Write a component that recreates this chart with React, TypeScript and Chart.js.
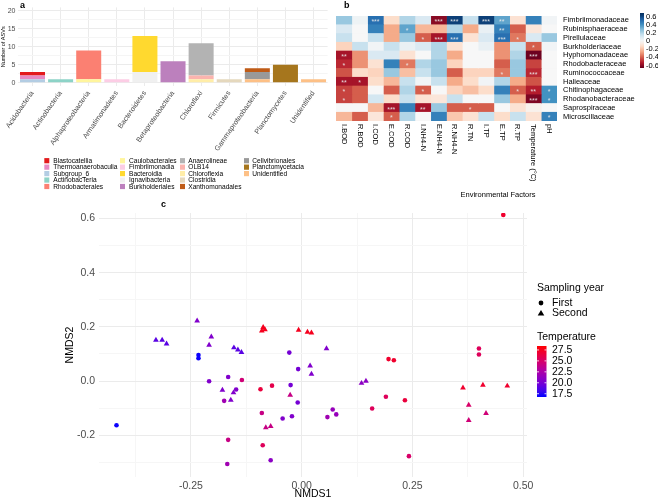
import React, { useEffect, useRef } from 'react';
import { Chart, registerables } from 'chart.js';
Chart.register(...registerables);

const FONT = "'Liberation Sans', Arial, Helvetica, sans-serif";

// ---------------- Panel a data ----------------
const PHYLA = ['Acidobacteria', 'Actinobacteria', 'Alphaproteobacteria', 'Armatimonadetes', 'Bacteroidetes', 'Betaproteobacteria', 'Chloroflexi', 'Firmicutes', 'Gammaproteobacteria', 'Planctomycetes', 'Unidentified'];
const CLASSES = ['Blastocatellia', 'Thermoanaerobaculia', 'Subgroup_6', 'ActinobacTeria', 'Rhodobacterales', 'Caulobacterales', 'Fimbriimonadia', 'Bacteroidia', 'Ignavibacteria', 'Burkholderiales', 'Anaerolineae', 'OLB14', 'Chloroflexia', 'Clostridia', 'Xanthomonadales', 'Cellvibrionales', 'Planctomycetacia', 'Unidentified'];
const CLASS_COLORS = ['#E31A1C', '#E78AC3', '#B3CDE3', '#8DD3C7', '#FB8072', '#FFF59D', '#FCCDE5', '#FFD92F', '#F0F0F0', '#BC80BD', '#B3B3B3', '#FBB4AE', '#FFEDA8', '#E5D8BD', '#BF5B17', '#999999', '#A6761D', '#FDC086'];
// ASV counts: one row per class, one column per phylum
const ASV_COUNTS = [
  [1, 0, 0, 0, 0, 0, 0, 0, 0, 0, 0],
  [1, 0, 0, 0, 0, 0, 0, 0, 0, 0, 0],
  [1, 0, 0, 0, 0, 0, 0, 0, 0, 0, 0],
  [0, 1, 0, 0, 0, 0, 0, 0, 0, 0, 0],
  [0, 0, 8, 0, 0, 0, 0, 0, 0, 0, 0],
  [0, 0, 1, 0, 0, 0, 0, 0, 0, 0, 0],
  [0, 0, 0, 1, 0, 0, 0, 0, 0, 0, 0],
  [0, 0, 0, 0, 10, 0, 0, 0, 0, 0, 0],
  [0, 0, 0, 0, 3, 0, 0, 0, 0, 0, 0],
  [0, 0, 0, 0, 0, 6, 0, 0, 0, 0, 0],
  [0, 0, 0, 0, 0, 0, 9, 0, 0, 0, 0],
  [0, 0, 0, 0, 0, 0, 1, 0, 0, 0, 0],
  [0, 0, 0, 0, 0, 0, 1, 0, 0, 0, 0],
  [0, 0, 0, 0, 0, 0, 0, 1, 0, 0, 0],
  [0, 0, 0, 0, 0, 0, 0, 0, 1, 0, 0],
  [0, 0, 0, 0, 0, 0, 0, 0, 2, 0, 0],
  [0, 0, 0, 0, 0, 0, 0, 0, 0, 5, 0],
  [0, 0, 0, 0, 0, 0, 0, 0, 1, 0, 1],
];
const ASV_TICKS = [0, 5, 10, 15, 20];

// ---------------- Panel b data ----------------
const ENV_FACTORS = ['I.BOD', 'R.BOD', 'I.COD', 'E.COD', 'R.COD', 'I.NH4-N', 'E.NH4-N', 'R.NH4-N', 'R.TN', 'I.TP', 'E.TP', 'R.TP', 'Temperature (°C)', 'pH'];
const FAMILIES = ['Fimbriimonadaceae', 'Rubinisphaeraceae', 'Pirellulaceae', 'Burkholderiaceae', 'Hyphomonadaceae', 'Rhodobacteraceae', 'Ruminococcaceae', 'Halieaceae', 'Chitinophagaceae', 'Rhodanobacteraceae', 'Saprospiraceae', 'Microscillaceae'];
const CORR = [
  [0.25, 0.03, 0.5, -0.12, 0.2, 0.1, -0.6, 0.62, 0.15, 0.62, 0.35, -0.1, 0.45, 0.02],
  [0.1, 0.0, 0.45, -0.25, 0.35, -0.22, -0.22, 0.2, -0.25, 0.05, 0.45, -0.4, -0.08, 0.0],
  [0.15, 0.0, 0.15, -0.25, 0.25, -0.4, -0.55, 0.5, -0.1, 0.1, 0.5, -0.35, 0.1, 0.25],
  [-0.15, 0.15, 0.02, 0.15, 0.05, 0.1, 0.2, -0.1, 0.0, 0.05, -0.3, 0.15, -0.4, 0.02],
  [-0.55, -0.3, 0.1, 0.1, -0.1, 0.0, 0.2, -0.25, 0.0, 0.0, -0.3, 0.2, -0.65, 0.0],
  [-0.5, -0.3, -0.1, 0.45, -0.35, 0.2, 0.25, -0.15, 0.0, 0.0, -0.4, 0.25, -0.45, 0.0],
  [-0.42, -0.12, -0.15, 0.25, -0.2, 0.15, 0.25, -0.4, -0.15, -0.15, -0.35, 0.25, -0.5, 0.0],
  [-0.55, -0.55, -0.12, -0.22, 0.15, 0.02, 0.15, -0.25, -0.12, 0.02, 0.2, -0.25, -0.42, 0.0],
  [-0.45, -0.4, 0.0, -0.4, 0.2, -0.4, 0.0, -0.15, -0.2, -0.12, 0.45, -0.4, -0.52, 0.4],
  [-0.45, -0.4, 0.12, -0.12, 0.15, -0.1, -0.08, 0.15, 0.0, 0.0, 0.25, -0.25, -0.62, 0.4],
  [0.0, 0.0, -0.22, -0.55, 0.45, -0.55, 0.25, -0.4, -0.4, -0.4, 0.0, -0.1, -0.03, 0.0],
  [-0.22, -0.4, -0.08, -0.4, 0.2, 0.0, 0.45, -0.18, -0.1, 0.15, -0.12, 0.15, -0.1, 0.45],
];
const SIGNIF = [
  ['', '', '***', '', '', '', '***', '***', '', '***', '**', '', '', ''],
  ['', '', '', '', '*', '', '', '', '', '', '**', '', '', ''],
  ['', '', '', '', '', '*', '***', '***', '', '', '***', '*', '', ''],
  ['', '', '', '', '', '', '', '', '', '', '', '', '*', ''],
  ['**', '', '', '', '', '', '', '', '', '', '', '', '***', ''],
  ['*', '', '', '', '*', '', '', '', '', '', '', '', '', ''],
  ['', '', '', '', '', '', '', '', '', '', '*', '', '***', ''],
  ['**', '*', '', '', '', '', '', '', '', '', '', '', '', ''],
  ['*', '', '', '', '', '*', '', '', '', '', '', '*', '**', '*'],
  ['*', '', '', '', '', '', '', '', '', '', '', '', '***', '*'],
  ['', '', '', '***', '', '**', '', '', '*', '', '', '', '', ''],
  ['', '', '', '*', '', '', '', '', '', '', '', '', '', '*'],
];
const CORR_TICKS = [0.6, 0.4, 0.2, 0, -0.2, -0.4, -0.6];

// ---------------- Panel c data ----------------
const FIRST_X = [-0.233, -0.233, -0.418, -0.209, -0.166, -0.135, -0.148, -0.175, -0.028, -0.008, -0.025, -0.093, -0.067, -0.009, -0.09, -0.043, -0.022, -0.166, -0.088, -0.07, -0.168, 0.058, 0.455, 0.196, 0.208, 0.19, 0.233, 0.159, 0.07, 0.078, 0.242, 0.4, 0.4];
const FIRST_Y = [0.096, 0.084, -0.163, -0.001, 0.015, 0.004, -0.031, -0.073, 0.105, 0.044, -0.015, -0.03, -0.017, -0.079, -0.118, -0.138, -0.13, -0.217, -0.237, -0.292, -0.306, -0.133, 0.613, 0.081, 0.077, -0.058, -0.071, -0.101, -0.105, -0.123, -0.277, 0.12, 0.098];
const FIRST_TEMP = [17, 17, 17, 20.5, 20.5, 24.5, 20.5, 22, 20, 20, 20, 26.5, 26, 20, 24, 20.5, 20.5, 24, 25.5, 21, 22, 22, 27, 27, 27, 25.5, 26.5, 25.5, 21.5, 21.5, 25, 25.5, 25.5];
const SECOND_X = [-0.236, -0.329, -0.315, -0.305, -0.204, -0.209, -0.153, -0.144, -0.136, -0.087, -0.083, -0.09, -0.007, 0.013, 0.022, 0.056, 0.019, 0.022, -0.026, -0.179, -0.154, -0.16, -0.081, -0.07, 0.135, 0.145, 0.364, 0.409, 0.464, 0.377, 0.416, 0.377];
const SECOND_Y = [0.222, 0.151, 0.151, 0.137, 0.163, 0.133, 0.123, 0.115, 0.106, 0.198, 0.19, 0.185, 0.188, 0.181, 0.178, 0.12, 0.056, 0.026, -0.052, -0.033, -0.043, -0.07, -0.172, -0.167, -0.008, 0.0, -0.025, -0.015, -0.018, -0.089, -0.119, -0.145];
const SECOND_TEMP = [20.5, 19, 19, 19, 20.5, 20.5, 19, 19, 19, 27.5, 27.5, 27.5, 27.5, 27.5, 27.5, 20.5, 20.5, 20.5, 24, 20.5, 20.5, 20.5, 24, 24, 21, 21, 27, 27, 27, 25, 24.5, 24.5];
const TEMP_TICKS = [27.5, 25.0, 22.5, 20.0, 17.5];
const TEMP_MIN = 16.75;
const TEMP_MAX = 28.4;
// colour scale stops (temperature, colour)
const TEMP_STOP_T = [16.75, 18, 19.5, 21, 23, 25, 27, 28.4];
const TEMP_STOP_C = ['#0000ff', '#3a08f0', '#6a00dc', '#8c00c4', '#b400a0', '#d80068', '#f0002e', '#ff0000'];
const NMDS1_TICKS = [-0.375, -0.25, -0.125, 0, 0.125, 0.25, 0.375, 0.5];
const NMDS2_TICKS = [-0.3, -0.2, -0.1, 0, 0.1, 0.2, 0.3, 0.4, 0.5, 0.6];

// ---------------- colour helpers ----------------
function hex(h: string) { return [parseInt(h.slice(1, 3), 16), parseInt(h.slice(3, 5), 16), parseInt(h.slice(5, 7), 16)]; }
function mix(a: string, b: string, f: number) {
  const x = hex(a), y = hex(b);
  return `rgb(${Math.round(x[0] + f * (y[0] - x[0]))},${Math.round(x[1] + f * (y[1] - x[1]))},${Math.round(x[2] + f * (y[2] - x[2]))})`;
}
function tempColor(t: number) {
  const v = Math.max(TEMP_MIN, Math.min(TEMP_MAX, t));
  let i = 0;
  while (i < TEMP_STOP_T.length - 2 && v > TEMP_STOP_T[i + 1]) i++;
  const f = (v - TEMP_STOP_T[i]) / (TEMP_STOP_T[i + 1] - TEMP_STOP_T[i]);
  return mix(TEMP_STOP_C[i], TEMP_STOP_C[i + 1], f);
}
const RDBU = ['#67001F', '#B2182B', '#D6604D', '#F4A582', '#FDDBC7', '#F7F7F7', '#D1E5F0', '#92C5DE', '#4393C3', '#2166AC', '#053061'];
const CORR_LIM = 0.66;
function corrColor(v: number) {
  const u = Math.max(0, Math.min(1, (v + CORR_LIM) / (2 * CORR_LIM))) * (RDBU.length - 1);
  const i = Math.min(RDBU.length - 2, Math.floor(u));
  return mix(RDBU[i], RDBU[i + 1], u - i);
}

// ---------------- Panel a ----------------
function PanelA() {
  const ref = useRef<HTMLCanvasElement>(null);
  useEffect(() => {
    const datasets = CLASSES.map((name, i) => ({
      label: name,
      data: ASV_COUNTS[i],
      backgroundColor: CLASS_COLORS[i],
      borderWidth: 0,
      barPercentage: 0.89,
      categoryPercentage: 1,
      stack: 's',
    })).reverse();
    const legendPlugin = {
      id: 'legA',
      afterDraw(chart: any) {
        const ctx = chart.ctx;
        const swX = [44.3, 120, 180, 244];
        const txX = [53.3, 129, 188.3, 252.3];
        ctx.save();
        ctx.font = `6.6px ${FONT}`;
        ctx.textBaseline = 'middle';
        ctx.textAlign = 'left';
        CLASSES.forEach((name, i) => {
          const col = Math.floor(i / 5), row = i % 5;
          const y = 160.7 + row * 6.45;
          ctx.fillStyle = CLASS_COLORS[i];
          ctx.fillRect(swX[col], y - 2.6, 5, 5.2);
          ctx.fillStyle = '#000';
          ctx.fillText(name, txX[col], y + 0.3);
        });
        ctx.font = `bold 9px ${FONT}`;
        ctx.fillText('a', 20, 6);
        ctx.restore();
      },
    };
    const chart = new Chart(ref.current!, {
      type: 'bar',
      data: { labels: PHYLA, datasets },
      options: {
        animation: false,
        responsive: false,
        maintainAspectRatio: false,
        layout: { padding: { top: 7.4, right: 2.4, left: 0, bottom: 0 } },
        plugins: { legend: { display: false }, tooltip: { enabled: false } },
        scales: {
          x: {
            stacked: true,
            grid: { offset: false, color: '#ebebeb', drawTicks: false },
            border: { display: false },
            ticks: { maxRotation: 55, minRotation: 55, autoSkip: false, font: { size: 7.2, family: FONT }, color: '#4d4d4d', padding: 3 },
            afterFit: (s: any) => { s.height = 113.7; },
          },
          y: {
            stacked: true,
            min: -1,
            max: 21,
            afterBuildTicks: (s: any) => { s.ticks = [0, 2.5, 5, 7.5, 10, 12.5, 15, 17.5, 20].map((v) => ({ value: v })); },
            afterFit: (s: any) => { s.width = 18.45; },
            grid: { color: (c: any) => (c.tick && ASV_TICKS.includes(c.tick.value) ? '#ebebeb' : '#f5f5f5'), drawTicks: false },
            border: { display: false },
            ticks: { font: { size: 7, family: FONT }, color: '#4d4d4d', padding: 3, autoSkip: false, callback: (v: any) => (ASV_TICKS.includes(v) ? String(v) : '') },
            title: { display: true, text: 'Number of ASVs', font: { size: 5.5, family: FONT }, color: '#000', padding: 0 },
          },
        },
      },
      plugins: [legendPlugin],
    });
    return () => chart.destroy();
  }, []);
  return <canvas ref={ref} width={330} height={200} style={{ position: 'absolute', left: 0, top: 0, width: 330, height: 200 }} />;
}

// ---------------- Panel b ----------------
function PanelB() {
  const ref = useRef<HTMLCanvasElement>(null);
  useEffect(() => {
    const datasets = ENV_FACTORS.map((f, c) => ({
      label: f,
      data: FAMILIES.map(() => [c, c + 1]),
      backgroundColor: FAMILIES.map((_, r) => corrColor(CORR[r][c])),
      borderWidth: 0,
      barPercentage: 1,
      categoryPercentage: 1,
      grouped: false,
    }));
    const deco = {
      id: 'decoB',
      afterDraw(chart: any) {
        const ctx = chart.ctx;
        const xs = chart.scales.x, ys = chart.scales.y;
        const area = chart.chartArea;
        ctx.save();
        ctx.fillStyle = 'rgba(235,235,235,0.9)';
        ctx.font = `7px ${FONT}`;
        ctx.textAlign = 'center';
        ctx.textBaseline = 'middle';
        SIGNIF.forEach((row, r) => row.forEach((s, c) => {
          if (!s) return;
          ctx.fillText(s, xs.getPixelForValue(c + 0.5), ys.getPixelForValue(r) + 1.8);
        }));
        ctx.fillStyle = '#000';
        ctx.font = `7.5px ${FONT}`;
        ctx.textAlign = 'left';
        ENV_FACTORS.forEach((f, c) => {
          ctx.save();
          ctx.translate(xs.getPixelForValue(c + 0.5), area.bottom + 3);
          ctx.rotate(Math.PI / 2);
          ctx.fillText(f, 0, 0);
          ctx.restore();
        });
        ctx.textAlign = 'center';
        ctx.font = `7.5px ${FONT}`;
        ctx.fillText('Environmental Factors', 168, 195);
        const top = 13, bot = 68, x0 = 310, w = 4;
        const vTop = 0.69, vBot = -0.66;
        const grad = ctx.createLinearGradient(0, top, 0, bot);
        for (let k = 0; k <= 20; k++) {
          const v = vTop + (vBot - vTop) * (k / 20);
          grad.addColorStop(k / 20, corrColor(v));
        }
        ctx.fillStyle = grad;
        ctx.fillRect(x0, top, w, bot - top);
        ctx.fillStyle = '#000';
        ctx.textAlign = 'left';
        ctx.font = `7.5px ${FONT}`;
        CORR_TICKS.forEach((v) => {
          const y = top + ((vTop - v) / (vTop - vBot)) * (bot - top);
          ctx.fillText(String(v), x0 + w + 2, y);
        });
        ctx.font = `bold 9px ${FONT}`;
        ctx.fillText('b', 14, 6);
        ctx.restore();
      },
    };
    const chart = new Chart(ref.current!, {
      type: 'bar',
      data: { labels: FAMILIES, datasets: datasets as any },
      options: {
        indexAxis: 'y',
        animation: false,
        responsive: false,
        maintainAspectRatio: false,
        layout: { padding: { top: 16, left: 6, right: 0, bottom: 79 } },
        plugins: { legend: { display: false }, tooltip: { enabled: false } },
        scales: {
          x: { type: 'linear', min: 0, max: 14, display: false },
          y: {
            type: 'category',
            position: 'right',
            grid: { display: false, drawTicks: false },
            border: { display: false },
            ticks: { font: { size: 7.5, family: FONT }, color: '#000', padding: 6, autoSkip: false },
            afterFit: (s: any) => { s.width = 101; },
          },
        },
      },
      plugins: [deco],
    });
    return () => chart.destroy();
  }, []);
  return <canvas ref={ref} width={328} height={200} style={{ position: 'absolute', left: 330, top: 0, width: 328, height: 200 }} />;
}

// ---------------- Panel c ----------------
function isMajorX(v: number) { return Math.round(v * 1000) % 250 === 0; }
function isMajorY(v: number) { return Math.round(v * 100) % 20 === 0; }

function PanelC() {
  const ref = useRef<HTMLCanvasElement>(null);
  useEffect(() => {
    const deco = {
      id: 'decoC',
      afterDraw(chart: any) {
        const ctx = chart.ctx;
        ctx.save();
        ctx.fillStyle = '#000';
        ctx.textBaseline = 'middle';
        ctx.textAlign = 'left';
        ctx.font = `10.5px ${FONT}`;
        ctx.fillText('Sampling year', 537, 88);
        ctx.beginPath();
        ctx.arc(541, 103, 2.4, 0, Math.PI * 2);
        ctx.fill();
        ctx.beginPath();
        ctx.moveTo(541, 110);
        ctx.lineTo(544.3, 115.6);
        ctx.lineTo(537.7, 115.6);
        ctx.closePath();
        ctx.fill();
        ctx.fillText('First', 552, 103);
        ctx.fillText('Second', 552, 113.5);
        ctx.fillText('Temperature', 537, 137);
        const top = 146, bot = 197, x0 = 537, w = 9.5;
        const grad = ctx.createLinearGradient(0, top, 0, bot);
        for (let k = 0; k <= 40; k++) {
          const t = TEMP_MAX + (TEMP_MIN - TEMP_MAX) * (k / 40);
          grad.addColorStop(k / 40, tempColor(t));
        }
        ctx.fillStyle = grad;
        ctx.fillRect(x0, top, w, bot - top);
        ctx.strokeStyle = '#fff';
        ctx.lineWidth = 0.8;
        ctx.fillStyle = '#000';
        TEMP_TICKS.forEach((t) => {
          const y = top + ((TEMP_MAX - t) / (TEMP_MAX - TEMP_MIN)) * (bot - top);
          ctx.beginPath();
          ctx.moveTo(x0, y); ctx.lineTo(x0 + 2, y);
          ctx.moveTo(x0 + w - 2, y); ctx.lineTo(x0 + w, y);
          ctx.stroke();
          ctx.fillText(t.toFixed(1), 552, y);
        });
        ctx.font = `bold 9px ${FONT}`;
        ctx.fillText('c', 161, 5);
        ctx.restore();
      },
    };
    const chart = new Chart(ref.current!, {
      type: 'scatter',
      data: {
        datasets: [
          {
            label: 'First',
            data: FIRST_X.map((x, i) => ({ x, y: FIRST_Y[i] })),
            pointStyle: 'circle',
            pointRadius: 2.3,
            backgroundColor: FIRST_TEMP.map(tempColor),
            borderWidth: 0,
          },
          {
            label: 'Second',
            data: SECOND_X.map((x, i) => ({ x, y: SECOND_Y[i] })),
            pointStyle: 'triangle',
            pointRadius: 3.3,
            backgroundColor: SECOND_TEMP.map(tempColor),
            borderWidth: 0,
          },
        ],
      },
      options: {
        animation: false,
        responsive: false,
        maintainAspectRatio: false,
        layout: { padding: { top: 13, left: 64, right: 131, bottom: 0 } },
        plugins: { legend: { display: false }, tooltip: { enabled: false } },
        scales: {
          x: {
            type: 'linear',
            min: -0.4575,
            max: 0.5085,
            afterBuildTicks: (s: any) => { s.ticks = NMDS1_TICKS.map((v) => ({ value: v })); },
            afterFit: (s: any) => { s.height = 23; },
            grid: { color: (c: any) => (c.tick && isMajorX(c.tick.value) ? '#ebebeb' : '#f6f6f6'), drawTicks: false },
            border: { display: false },
            ticks: { autoSkip: false, font: { size: 10.5, family: FONT }, color: '#4d4d4d', padding: 3, maxRotation: 0, callback: (v: any) => (isMajorX(v) ? Number(v).toFixed(2) : '') },
            title: { display: true, text: 'NMDS1', font: { size: 10.5, family: FONT }, color: '#000', padding: 0 },
          },
          y: {
            type: 'linear',
            min: -0.354,
            max: 0.62,
            afterBuildTicks: (s: any) => { s.ticks = NMDS2_TICKS.map((v) => ({ value: v })); },
            afterFit: (s: any) => { s.width = 35; },
            grid: { color: (c: any) => (c.tick && isMajorY(c.tick.value) ? '#ebebeb' : '#f6f6f6'), drawTicks: false },
            border: { display: false },
            ticks: { autoSkip: false, font: { size: 10.5, family: FONT }, color: '#4d4d4d', padding: 4, callback: (v: any) => (isMajorY(v) ? Number(v).toFixed(1) : '') },
            title: { display: true, text: 'NMDS2', font: { size: 10.5, family: FONT }, color: '#000', padding: 0 },
          },
        },
      },
      plugins: [deco],
    });
    return () => chart.destroy();
  }, []);
  return <canvas ref={ref} width={658} height={300} style={{ position: 'absolute', left: 0, top: 200, width: 658, height: 300 }} />;
}

export default function App() {
  return (
    <div style={{ position: 'absolute', left: 0, top: 0, width: 658, height: 500, background: '#fff', overflow: 'hidden' }}>
      <PanelA />
      <PanelB />
      <PanelC />
    </div>
  );
}
